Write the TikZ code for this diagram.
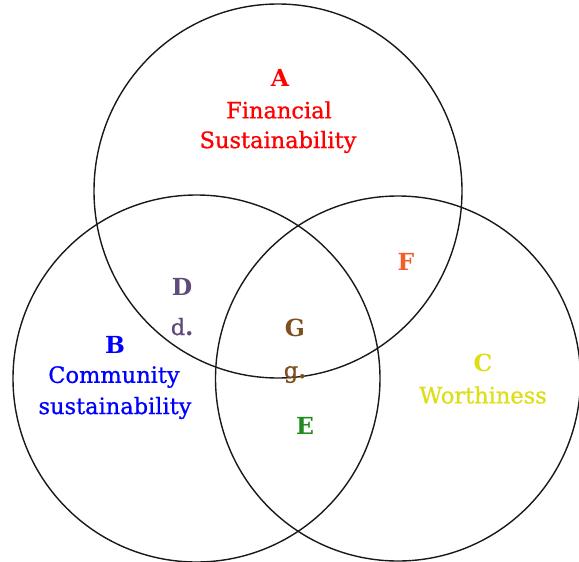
\documentclass[tikz,border=0pt]{standalone}
\usepackage{fontspec}
\setmainfont{DejaVu Serif}
\definecolor{cA}{RGB}{255,0,0}
\definecolor{cB}{RGB}{0,0,255}
\definecolor{cC}{RGB}{222,222,20}
\definecolor{cD}{RGB}{96,74,123}
\definecolor{cE}{RGB}{30,140,30}
\definecolor{cF}{RGB}{240,95,40}
\definecolor{cG}{RGB}{125,80,30}
\tikzset{
  circ/.style={draw=black!90, line width=1.4pt},
  lbl/.style={font=\fontsize{22.5}{27}\selectfont\addfontfeature{FakeBold=0.8}, align=center, inner sep=0pt},
  let/.style={font=\fontsize{23.5}{27}\selectfont\bfseries, inner sep=0pt},
}
\begin{document}
\begin{tikzpicture}[x=1pt,y=-1pt]
\useasboundingbox (0,0) rectangle (579,562);
\fill[white] (0,0) rectangle (579,562);
\draw[circ] (278,191) ellipse [x radius=184, y radius=187];
\draw[circ] (196.5,378.5) circle [radius=183.5];
\draw[circ] (398,378.5) circle [radius=182.5];
% A
\node[let, text=cA] (nA) at (280,78) {A};
\node[lbl, text=cA] (nA1) at (279,110) {Financial};
\node[lbl, text=cA] (nA2) at (278,142) {Sustainability};
% B
\node[let, text=cB] (nB) at (115,345) {B};
\node[lbl, text=cB] (nB1) at (114,377) {Community};
\node[lbl, text=cB] (nB2) at (115,408) {sustainability};
% C
\node[let, text=cC] (nC) at (483,363) {C};
\node[lbl, text=cC] (nC1) at (483,395) {Worthiness};
% D
\node[let, text=cD] (nD) at (182,287) {D};
\node[lbl, text=cD, anchor=base] (nd) at (182,335) {d{\bfseries.}};
% F
\node[let, text=cF] (nF) at (406,262) {F};
% G
\node[let, text=cG] (nG) at (295,328) {G};
\node[lbl, text=cG, anchor=base] (ng) at (295,378) {g{\bfseries.}};
% E
\node[let, text=cE] (nE) at (305,426) {E};
\end{tikzpicture}
\end{document}
